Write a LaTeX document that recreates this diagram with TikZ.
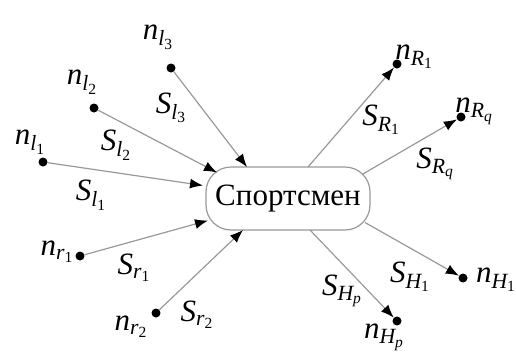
\documentclass[tikz,border=0pt]{standalone}
\usepackage{amsmath}
\usepackage{fontspec}
\setmainfont{Liberation Serif}
\usetikzlibrary{arrows.meta,calc}
% italic letters in the text font
\newcommand{\iv}[1]{\text{\itshape #1}}

\begin{document}
\begin{tikzpicture}[x=1pt,y=-1pt,
    dot/.style={circle,fill=black,inner sep=0pt,minimum size=9pt},
    link/.style={draw=black!40,line width=1.2pt,-{Latex[black,length=13pt,width=10pt]}},
    lab/.style={inner sep=0pt,font=\fontsize{31}{36}\selectfont}]
    \useasboundingbox (0,0) rectangle (516,354);
    % central node
    \node[draw=black!40,line width=1.2pt,rounded corners=25pt,minimum width=164pt,
          minimum height=63pt,inner sep=0pt,font=\fontsize{31}{36}\selectfont]
          (sport) at (288,198.5) {Спортсмен};
    % points of the neighbours
    \node[dot] (l1) at (43,162) {};
    \node[dot] (l2) at (94,108) {};
    \node[dot] (l3) at (171,68) {};
    \node[dot] (r1) at (80,256) {};
    \node[dot] (r2) at (156,313) {};
    \node[dot] (R1) at (397,64) {};
    \node[dot] (Rq) at (461,117) {};
    \node[dot] (H1) at (463,278) {};
    \node[dot] (Hp) at (397,321) {};
    % where the links meet the box
    \coordinate (inl1) at ($(sport.center)+(-85,-13)$);
    \coordinate (inl2) at ($(sport.center)+(-71,-26)$);
    \coordinate (inl3) at ($(sport.center)+(-41,-31.5)$);
    \coordinate (inr1) at ($(sport.center)+(-80,22)$);
    \coordinate (inr2) at ($(sport.center)+(-45,31.5)$);
    \coordinate (outR1) at ($(sport.center)+(20,-31.5)$);
    \coordinate (outRq) at ($(sport.center)+(74,-24)$);
    \coordinate (outH1) at ($(sport.center)+(77,24)$);
    \coordinate (outHp) at ($(sport.center)+(22,31.5)$);
    \draw[link] (l1) -- (inl1);
    \draw[link] (l2) -- (inl2);
    \draw[link] (l3) -- (inl3);
    \draw[link] (r1) -- (inr1);
    \draw[link] (r2) -- (inr2);
    \draw[link] (outR1) -- (R1);
    \draw[link] (outRq) -- (Rq);
    \draw[link] (outH1) -- (H1);
    \draw[link] (outHp) -- (Hp);
    % names of the points
    \node[lab] (nl1) at (30,142) {$\iv{n}_{\iv{l}_{\text{1}}}$};
    \node[lab] (nl2) at (82,82) {$\iv{n}_{\iv{l}_{\text{2}}}$};
    \node[lab] (nl3) at (158,37) {$\iv{n}_{\iv{l}_{\text{3}}}$};
    \node[lab] (nr1) at (57,252) {$\iv{n}_{\iv{r}_{\text{1}}}$};
    \node[lab] (nr2) at (131,327) {$\iv{n}_{\iv{r}_{\text{2}}}$};
    \node[lab] (nR1) at (414,57) {$\iv{n}_{\iv{R}_{\text{1}}}$};
    \node[lab] (nRq) at (474,111) {$\iv{n}_{\iv{R}_{\iv{q}}}$};
    \node[lab] (nH1) at (496,280) {$\iv{n}_{\iv{H}_{\text{1}}}$};
    \node[lab] (nHp) at (384,337) {$\iv{n}_{\iv{H}_{\iv{p}}}$};
    % names of the links
    \node[lab] (Sl1) at (91,195) {$\iv{S}_{\iv{l}_{\text{1}}}$};
    \node[lab] (Sl2) at (116,145) {$\iv{S}_{\iv{l}_{\text{2}}}$};
    \node[lab] (Sl3) at (171,108) {$\iv{S}_{\iv{l}_{\text{3}}}$};
    \node[lab] (Sr1) at (134,268) {$\iv{S}_{\iv{r}_{\text{1}}}$};
    \node[lab] (Sr2) at (197,315) {$\iv{S}_{\iv{r}_{\text{2}}}$};
    \node[lab] (SR1) at (381,120) {$\iv{S}_{\iv{R}_{\text{1}}}$};
    \node[lab] (SRq) at (435,164) {$\iv{S}_{\iv{R}_{\iv{q}}}$};
    \node[lab] (SH1) at (410,277) {$\iv{S}_{\iv{H}_{\text{1}}}$};
    \node[lab] (SHp) at (342,291) {$\iv{S}_{\iv{H}_{\iv{p}}}$};
\end{tikzpicture}
\end{document}
